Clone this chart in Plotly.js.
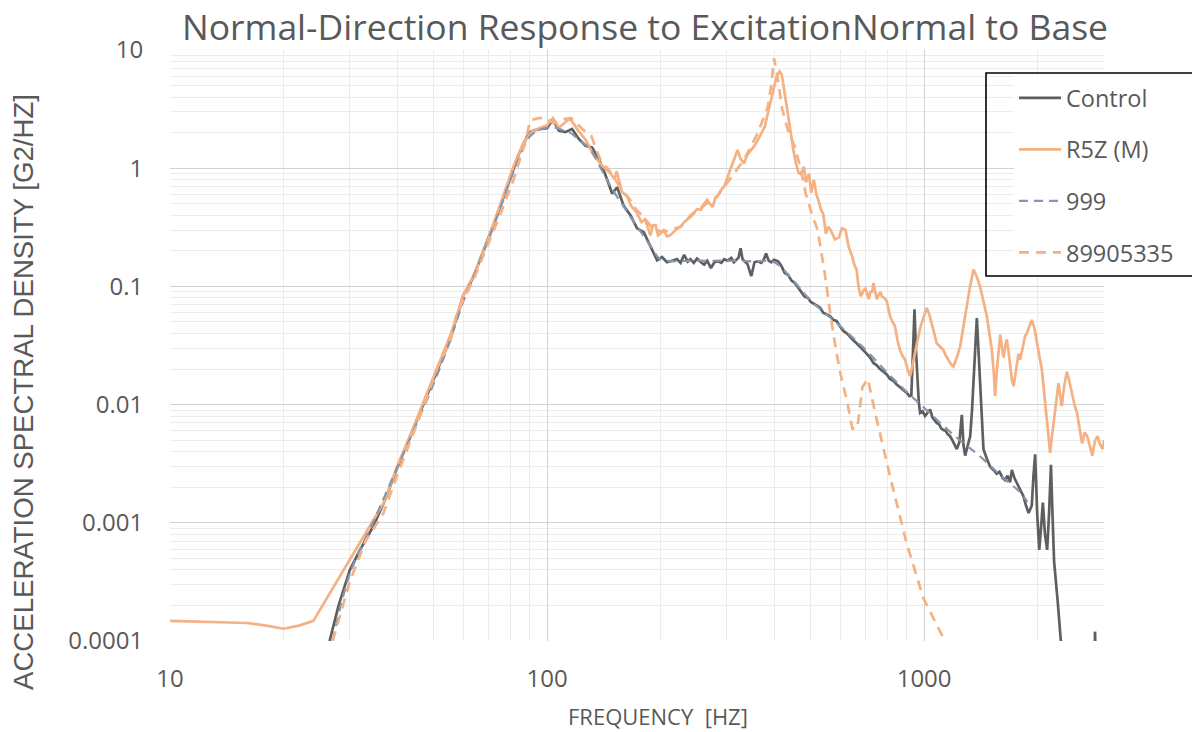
<!DOCTYPE html>
<html>
<head>
<meta charset="utf-8">
<script src="https://cdn.plot.ly/plotly-3.0.1.min.js"></script>
<style>html,body{margin:0;padding:0;background:#fff;}#chart{width:1192px;height:732px;}</style>
</head>
<body>
<div id="chart"></div>
<script>
// ---------- DATA ----------
const controlFreq = [26.5,28,30,32,34.5,37,40,43.5,47,51,55.5,58,60,62,64,67,69.3,72,75.2,78,81.6,84,86.7,88.5,90.3,93,96,100,103.7,107.4,111.8,116.5,121.4,126.5,131.6,137.1,142.8,148.8,153.4,159.7,166.4,173.3,180.5,188,195.8,201.8,208,214.5,221,226,231,236,240,245,250,256,261,266,272,278,284,290,295,301,308,313,317,322,326,330,334,340,348,355,362,370,376,381,387,393,400,410,418,427,436,445,454,463,472,482,492,500,511,521,530,540,550,563,575,586,598,611,624,637,649,662,676,690,704,719,734,749,764,780,796,812,829,846,863,881,899,914,925,935,943,951,960,968,976,991,1006,1021,1037,1052,1066,1080,1096,1110,1125,1140,1156,1172,1188,1205,1221,1240,1259,1272,1285,1305,1325,1340,1352,1366,1380,1393,1407,1422,1437,1466,1496,1527,1558,1585,1615,1640,1665,1690,1709,1735,1760,1797,1834,1863,1893,1912,1930,1950,1970,1995,2020,2042,2065,2092,2120,2145,2170,2190,2212,2260,2305,2400,2800,2830,2840,2860,3000];
const controlPSD = [0.0001,0.0002,0.0004,0.0006,0.00092,0.0015,0.0029,0.0055,0.0100,0.019,0.038,0.058,0.085,0.1,0.124,0.18,0.236,0.33,0.48,0.68,1.0,1.3,1.6,1.85,2.02,2.1,2.15,2.18,2.6,2.08,2.02,2.15,1.77,1.55,1.5,1.2,0.88,0.61,0.69,0.48,0.4,0.31,0.288,0.222,0.166,0.177,0.16,0.165,0.17,0.158,0.185,0.162,0.17,0.158,0.172,0.16,0.153,0.165,0.143,0.16,0.163,0.158,0.17,0.165,0.174,0.16,0.166,0.175,0.21,0.17,0.163,0.155,0.122,0.16,0.163,0.158,0.17,0.19,0.165,0.16,0.168,0.163,0.15,0.13,0.125,0.112,0.107,0.098,0.092,0.082,0.08,0.074,0.071,0.068,0.066,0.06,0.058,0.056,0.052,0.051,0.046,0.042,0.04,0.037,0.035,0.033,0.031,0.029,0.027,0.025,0.0225,0.0215,0.02,0.019,0.018,0.0165,0.0159,0.0148,0.014,0.0134,0.0126,0.0118,0.012,0.03,0.064,0.03,0.0143,0.0105,0.0085,0.0088,0.008,0.0085,0.0091,0.0078,0.0074,0.007,0.0068,0.0063,0.0061,0.006,0.0056,0.0054,0.005,0.0046,0.0042,0.0048,0.0082,0.0045,0.0037,0.0045,0.0054,0.009,0.0153,0.035,0.054,0.03,0.0153,0.007,0.0042,0.0035,0.003,0.0028,0.0026,0.0027,0.0024,0.0023,0.0025,0.0022,0.0028,0.0024,0.0022,0.0019,0.00168,0.0014,0.00121,0.0013,0.0014,0.0025,0.0038,0.0012,0.00059,0.0009,0.00148,0.0008,0.00059,0.0012,0.0031,0.0012,0.00047,0.00022,0.0001,0.00004,0.00004,0.00004,0.00012,0.00004,0.00004];

const r5zFreq = [10,12,14,16,18,20,22,24,35.3,37,40,43.5,47,51,55.5,60,64,69.3,75.2,81.6,86.7,91,96,100,103.7,107.4,111,115,121,127,133,140,147,151,153,158,163,167,173,178,182,188,191,194,197,200,204,208,212,217,222,226,231,235,240,245,250,256,261,266,270,275,279,283,289,295,301,308,314,320,326,333,340,348,355,362,370,378,386,393,400,406,414,419,423,430,437,444,450,457,465,472,480,486,495,502,510,518,526,532,540,549,557,565,580,595,605,619,630,636,645,654,662,670,678,683,690,699,705,713,720,728,734,741,749,758,766,773,784,796,804,812,825,837,850,863,876,890,904,918,933,948,963,979,997,1016,1032,1048,1064,1080,1102,1125,1142,1160,1178,1196,1221,1246,1270,1297,1324,1352,1380,1407,1437,1467,1490,1512,1528,1543,1560,1576,1592,1610,1625,1640,1657,1675,1692,1710,1727,1745,1762,1780,1798,1816,1835,1853,1872,1900,1930,1960,1990,2020,2052,2080,2115,2140,2159,2180,2205,2240,2272,2295,2318,2350,2390,2425,2466,2505,2545,2585,2624,2665,2707,2750,2793,2838,2883,2930,2974,3000];
const r5zPSD = [0.000148,0.000145,0.000143,0.000142,0.000135,0.000127,0.000135,0.000148,0.00117,0.0015,0.003,0.0056,0.0105,0.02,0.039,0.085,0.125,0.236,0.5,1.05,1.66,2.02,2.2,2.3,2.65,2.2,2.4,2.65,2.08,1.71,1.28,1.05,0.91,0.81,0.94,0.63,0.58,0.48,0.42,0.35,0.37,0.27,0.33,0.33,0.27,0.28,0.3,0.265,0.27,0.29,0.31,0.32,0.35,0.366,0.4,0.42,0.45,0.445,0.5,0.54,0.5,0.47,0.55,0.58,0.65,0.7,0.85,1.03,1.2,1.43,1.2,1.1,1.3,1.43,1.55,1.73,2.0,2.25,3.0,3.78,4.8,5.95,6.6,6.2,5.2,3.8,2.8,1.9,1.43,1.1,0.91,0.89,1.03,0.76,0.9,0.62,0.8,0.6,0.52,0.45,0.41,0.28,0.32,0.3,0.25,0.26,0.31,0.3,0.22,0.205,0.178,0.15,0.139,0.1,0.083,0.085,0.092,0.096,0.089,0.078,0.09,0.09,0.107,0.09,0.078,0.085,0.09,0.082,0.08,0.075,0.065,0.056,0.05,0.046,0.035,0.029,0.026,0.024,0.02,0.0174,0.022,0.029,0.036,0.046,0.055,0.0658,0.058,0.049,0.04,0.033,0.031,0.029,0.026,0.024,0.022,0.021,0.025,0.031,0.045,0.068,0.1,0.139,0.12,0.1,0.075,0.056,0.04,0.029,0.02,0.0118,0.02,0.03,0.039,0.03,0.025,0.031,0.0355,0.028,0.02,0.016,0.0143,0.018,0.022,0.027,0.024,0.028,0.034,0.038,0.04,0.046,0.052,0.045,0.033,0.026,0.02,0.013,0.008,0.0055,0.0039,0.0052,0.007,0.011,0.0152,0.012,0.0097,0.014,0.019,0.016,0.0125,0.01,0.0085,0.0065,0.0047,0.0058,0.0054,0.0045,0.0037,0.0049,0.0054,0.0046,0.0042,0.005];

const ref999Freq = [27,30,35,40,45,50,55,60,65,70,75,80,85,90,95,100,105,110,115,120,130,140,150,160,170,180,190,200,250,300,350,400,450,500,600,700,800,900,1000,1200,1400,1600,1800,1880];
const ref999PSD = [0.0001,0.00037,0.0011,0.0029,0.0068,0.015,0.033,0.075,0.14,0.25,0.45,0.8,1.3,1.85,2.1,2.2,2.2,2.1,2.0,1.8,1.45,0.95,0.64,0.47,0.35,0.27,0.21,0.17,0.165,0.165,0.163,0.16,0.112,0.076,0.046,0.029,0.0185,0.0128,0.0094,0.0055,0.0037,0.0025,0.0018,0.0015];

const s899Freq = [27,30,33,36.8,40,43.5,47,51,55.5,57.7,64,69,75,81.6,86.7,90.3,95,100,104,110,116,125,131,135,140,145,150,157,166,172,180,192,204,226,250,283,308,333,362,385,393,400,410,420,437,455,470,486,505,522,545,565,585,601,626,645,665,686,709,743,814,900,996,1136,1200];
const s899PSD = [0.0001,0.00032,0.0007,0.0012,0.0025,0.0051,0.0095,0.02,0.035,0.06,0.116,0.21,0.4,0.81,1.5,2.55,2.65,2.65,2.4,2.6,2.65,2.1,1.89,1.43,1.1,0.99,0.85,0.67,0.54,0.45,0.39,0.3,0.29,0.32,0.44,0.58,0.85,1.18,1.98,3.3,5.0,8.5,5.5,3.2,2.0,1.5,1.0,0.6,0.4,0.3,0.13,0.056,0.028,0.0178,0.0104,0.0063,0.0063,0.014,0.0165,0.0083,0.0024,0.00066,0.00023,0.0001,0.00007];

const seriesNames = ['Control', 'R5Z (M)', '999', '89905335'];
const yTickVals = [0.0001, 0.001, 0.01, 0.1, 1, 10];
const yTickText = ['0.0001', '0.001', '0.01', '0.1', '1', '10'];
const xTickVals = [10, 100, 1000];
const xTickText = ['10', '100', '1000'];
const chartTitle = 'Normal-Direction Response to ExcitationNormal to Base';
const xTitle = 'FREQUENCY&nbsp;&nbsp;[HZ]';
const yTitle = 'ACCELERATION SPECTRAL DENSITY [G2/HZ]';

// ---------- CHART ----------
const gray = '#595959';
const traces = [
  {x: controlFreq, y: controlPSD, name: seriesNames[0], mode: 'lines', line: {color: '#5f5f5f', width: 2.7}, legendgroup: 'a'},
  {x: r5zFreq, y: r5zPSD, name: seriesNames[1], mode: 'lines', line: {color: '#F4B183', width: 2.7}, legendgroup: 'b'},
  {x: ref999Freq, y: ref999PSD, name: seriesNames[2], mode: 'lines', line: {color: '#8497B0', width: 2.2, dash: '9px,6px', shape: 'spline'}, legendgroup: 'c'},
  {x: s899Freq, y: s899PSD, name: seriesNames[3], mode: 'lines', line: {color: '#F4B183', width: 2.7, dash: '10px,7px'}, legendgroup: 'd'}
];

const L = 170, R = 88, T = 50, B = 91;
const W = 1192, H = 732;
const pw = W - L - R, ph = H - T - B;
function px2paperX(px) { return (px - L) / pw; }
function px2paperY(py) { return (H - B - py) / ph; }

const layout = {
  width: W, height: H,
  margin: {l: L, r: R, t: T, b: B, pad: 0},
  paper_bgcolor: '#ffffff', plot_bgcolor: '#ffffff',
  font: {family: 'Open Sans, sans-serif', color: gray},
  title: {text: chartTitle, font: {family: 'Open Sans, sans-serif', size: 35.5, color: gray},
          xref: 'container', x: 645 / W, xanchor: 'center', yref: 'container', y: 1 - 28 / H, yanchor: 'middle'},
  xaxis: {
    type: 'log', range: [1, Math.log10(3000)],
    tickmode: 'array', tickvals: xTickVals, ticktext: xTickText,
    showgrid: true, gridcolor: '#d2d2d2', gridwidth: 1,
    minor: {dtick: 'D1', showgrid: true, gridcolor: '#ececec', gridwidth: 1, ticks: ''},
    showline: false, zeroline: false,
    ticks: 'outside', ticklen: 16, tickcolor: 'rgba(0,0,0,0)',
    tickfont: {family: 'Open Sans, sans-serif', size: 24, color: gray},
    automargin: false
  },
  yaxis: {
    type: 'log', range: [-4, 1],
    tickmode: 'array', tickvals: yTickVals, ticktext: yTickText,
    showgrid: true, gridcolor: '#d2d2d2', gridwidth: 1,
    minor: {dtick: 'D1', showgrid: true, gridcolor: '#ececec', gridwidth: 1, ticks: ''},
    showline: false, zeroline: false,
    ticks: 'outside', ticklen: 21, tickcolor: 'rgba(0,0,0,0)',
    tickfont: {family: 'Open Sans, sans-serif', size: 24, color: gray},
    automargin: false
  },
  legend: {
    x: px2paperX(1014), y: px2paperY(76), xanchor: 'left', yanchor: 'top',
    bgcolor: 'rgba(255,255,255,1)', borderwidth: 0,
    font: {family: 'Open Sans, sans-serif', size: 23.5, color: gray},
    tracegroupgap: 18, itemwidth: 42, traceorder: 'grouped'
  },
  shapes: [{
    type: 'rect', xref: 'paper', yref: 'paper',
    x0: px2paperX(986), x1: px2paperX(1200), y0: px2paperY(276), y1: px2paperY(73),
    line: {color: '#000000', width: 1.6}, fillcolor: 'rgba(0,0,0,0)', layer: 'above'
  }],
  annotations: [
    {text: xTitle, xref: 'paper', yref: 'paper', x: px2paperX(658), y: px2paperY(716), xanchor: 'center', yanchor: 'middle',
     showarrow: false, font: {family: 'Open Sans, sans-serif', size: 22, color: gray}},
    {text: yTitle, xref: 'paper', yref: 'paper', x: px2paperX(23), y: px2paperY(392), xanchor: 'center', yanchor: 'middle',
     textangle: -90, showarrow: false, font: {family: 'Liberation Sans, Arial, sans-serif', size: 27.6, color: gray}}
  ],
  showlegend: true
};

Plotly.newPlot('chart', traces, layout, {displayModeBar: false, staticPlot: true});
</script>
</body>
</html>
